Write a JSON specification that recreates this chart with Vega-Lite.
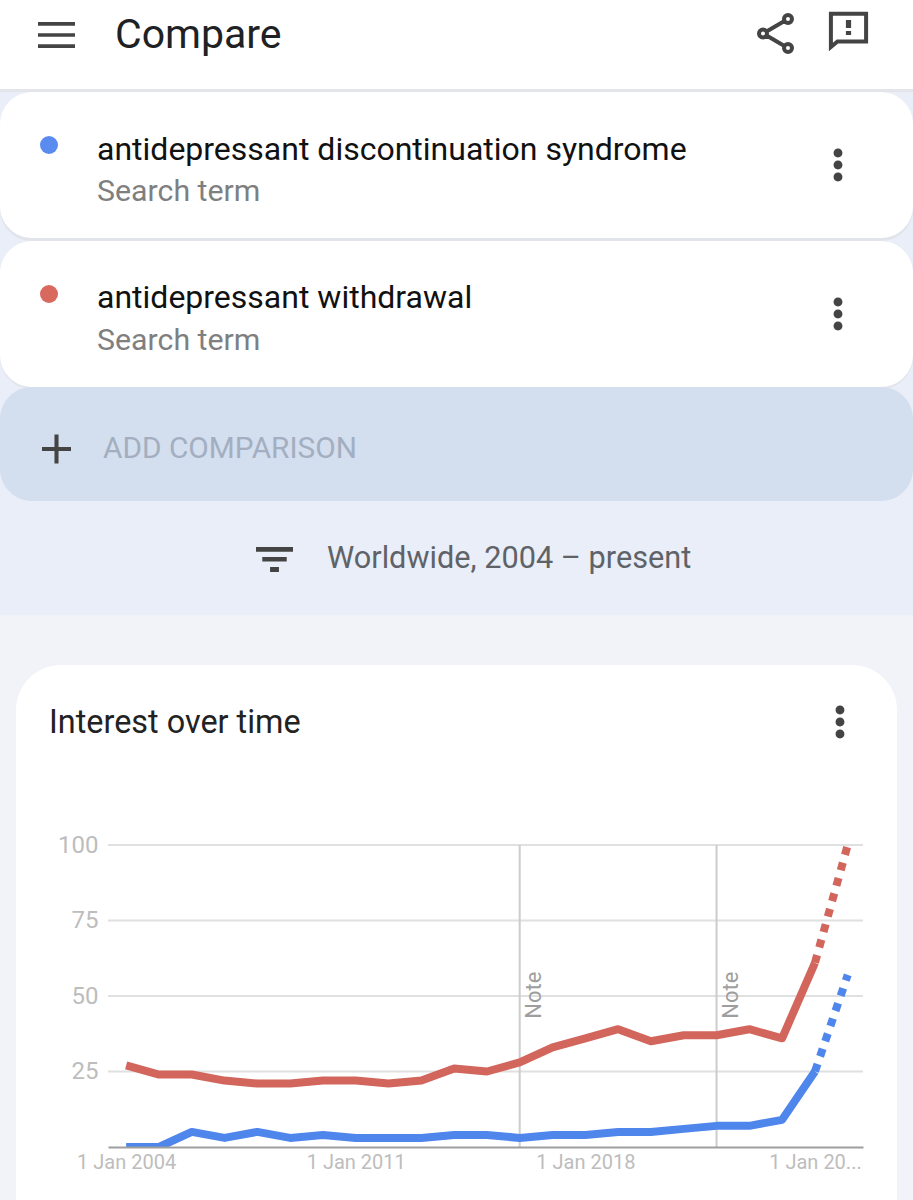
{
"$schema":"https://vega.github.io/schema/vega-lite/v6.json",
"width":755,"height":302,
"autosize":{"type":"none"},
"padding":{"left":108,"top":845,"right":50,"bottom":53},
"background":"#f1f3f9",
"view":{"stroke":null},
"config":{"text":{"font":"Roboto","baseline":"alphabetic","align":"left"}},
"datasets":{
"series":[
{"date":"2004-01-01","term":"antidepressant discontinuation syndrome","value":0},
{"date":"2005-01-01","term":"antidepressant discontinuation syndrome","value":0},
{"date":"2006-01-01","term":"antidepressant discontinuation syndrome","value":5},
{"date":"2007-01-01","term":"antidepressant discontinuation syndrome","value":3},
{"date":"2008-01-01","term":"antidepressant discontinuation syndrome","value":5},
{"date":"2009-01-01","term":"antidepressant discontinuation syndrome","value":3},
{"date":"2010-01-01","term":"antidepressant discontinuation syndrome","value":4},
{"date":"2011-01-01","term":"antidepressant discontinuation syndrome","value":3},
{"date":"2012-01-01","term":"antidepressant discontinuation syndrome","value":3},
{"date":"2013-01-01","term":"antidepressant discontinuation syndrome","value":3},
{"date":"2014-01-01","term":"antidepressant discontinuation syndrome","value":4},
{"date":"2015-01-01","term":"antidepressant discontinuation syndrome","value":4},
{"date":"2016-01-01","term":"antidepressant discontinuation syndrome","value":3},
{"date":"2017-01-01","term":"antidepressant discontinuation syndrome","value":4},
{"date":"2018-01-01","term":"antidepressant discontinuation syndrome","value":4},
{"date":"2019-01-01","term":"antidepressant discontinuation syndrome","value":5},
{"date":"2020-01-01","term":"antidepressant discontinuation syndrome","value":5},
{"date":"2021-01-01","term":"antidepressant discontinuation syndrome","value":6},
{"date":"2022-01-01","term":"antidepressant discontinuation syndrome","value":7},
{"date":"2023-01-01","term":"antidepressant discontinuation syndrome","value":7},
{"date":"2024-01-01","term":"antidepressant discontinuation syndrome","value":9},
{"date":"2025-01-01","term":"antidepressant discontinuation syndrome","value":25},
{"date":"2026-01-01","term":"antidepressant discontinuation syndrome","value":57},
{"date":"2004-01-01","term":"antidepressant withdrawal","value":27},
{"date":"2005-01-01","term":"antidepressant withdrawal","value":24},
{"date":"2006-01-01","term":"antidepressant withdrawal","value":24},
{"date":"2007-01-01","term":"antidepressant withdrawal","value":22},
{"date":"2008-01-01","term":"antidepressant withdrawal","value":21},
{"date":"2009-01-01","term":"antidepressant withdrawal","value":21},
{"date":"2010-01-01","term":"antidepressant withdrawal","value":22},
{"date":"2011-01-01","term":"antidepressant withdrawal","value":22},
{"date":"2012-01-01","term":"antidepressant withdrawal","value":21},
{"date":"2013-01-01","term":"antidepressant withdrawal","value":22},
{"date":"2014-01-01","term":"antidepressant withdrawal","value":26},
{"date":"2015-01-01","term":"antidepressant withdrawal","value":25},
{"date":"2016-01-01","term":"antidepressant withdrawal","value":28},
{"date":"2017-01-01","term":"antidepressant withdrawal","value":33},
{"date":"2018-01-01","term":"antidepressant withdrawal","value":36},
{"date":"2019-01-01","term":"antidepressant withdrawal","value":39},
{"date":"2020-01-01","term":"antidepressant withdrawal","value":35},
{"date":"2021-01-01","term":"antidepressant withdrawal","value":37},
{"date":"2022-01-01","term":"antidepressant withdrawal","value":37},
{"date":"2023-01-01","term":"antidepressant withdrawal","value":39},
{"date":"2024-01-01","term":"antidepressant withdrawal","value":36},
{"date":"2025-01-01","term":"antidepressant withdrawal","value":61},
{"date":"2026-01-01","term":"antidepressant withdrawal","value":100}
],
"ui":[{"part":"chrome"}],
"grid":[{"v":25},{"v":50},{"v":75},{"v":100}],
"notes":[{"date":"2016-01-01","label":"Note"},{"date":"2022-01-01","label":"Note"}]
},
"layer":[
{"data":{"name":"ui"},"mark":{"type":"rect","fill":"#e9eef8"},"encoding":{"x":{"value":-108},"x2":{"value":805},"y":{"value":-755},"y2":{"value":-230}}},
{"data":{"name":"ui"},"mark":{"type":"rect","fill":"#ffffff"},"encoding":{"x":{"value":-108},"x2":{"value":805},"y":{"value":-845},"y2":{"value":-756}}},
{"data":{"name":"ui"},"mark":{"type":"rect","fill":"#e3e5ea"},"encoding":{"x":{"value":-108},"x2":{"value":805},"y":{"value":-756},"y2":{"value":-753}}},
{"data":{"name":"ui"},"mark":{"type":"rect","fill":"#e1e4ea","cornerRadius":32},"encoding":{"x":{"value":-108},"x2":{"value":805},"y":{"value":-753},"y2":{"value":-604}}},
{"data":{"name":"ui"},"mark":{"type":"rect","fill":"#ffffff","cornerRadius":32},"encoding":{"x":{"value":-108},"x2":{"value":805},"y":{"value":-753},"y2":{"value":-607}}},
{"data":{"name":"ui"},"mark":{"type":"rect","fill":"#e1e4ea","cornerRadius":32},"encoding":{"x":{"value":-108},"x2":{"value":805},"y":{"value":-604},"y2":{"value":-456}}},
{"data":{"name":"ui"},"mark":{"type":"rect","fill":"#d3deef","cornerRadius":32},"encoding":{"x":{"value":-108},"x2":{"value":805},"y":{"value":-458},"y2":{"value":-344}}},
{"data":{"name":"ui"},"mark":{"type":"rect","fill":"#ffffff","cornerRadius":32},"encoding":{"x":{"value":-108},"x2":{"value":805},"y":{"value":-604},"y2":{"value":-458}}},
{"data":{"name":"ui"},"mark":{"type":"rect","fill":"#ffffff","cornerRadius":45},"encoding":{"x":{"value":-92},"x2":{"value":789},"y":{"value":-180},"y2":{"value":420}}},

{"data":{"values":[{"label":"Compare"}]},"mark":{"type":"text","fontSize":41,"fill":"#202124"},"encoding":{"text":{"field":"label"},"x":{"value":7},"y":{"value":-797}}},
{"data":{"values":[{"label":"antidepressant discontinuation syndrome"}]},"mark":{"type":"text","fontSize":32,"fill":"#111111"},"encoding":{"text":{"field":"label"},"x":{"value":-11},"y":{"value":-685}}},
{"data":{"values":[{"label":"Search term"}]},"mark":{"type":"text","fontSize":30.3,"fill":"#7f7f7f"},"encoding":{"text":{"field":"label"},"x":{"value":-11},"y":{"value":-644}}},
{"data":{"values":[{"label":"antidepressant withdrawal"}]},"mark":{"type":"text","fontSize":32,"fill":"#111111"},"encoding":{"text":{"field":"label"},"x":{"value":-11},"y":{"value":-537}}},
{"data":{"values":[{"label":"Search term"}]},"mark":{"type":"text","fontSize":30.3,"fill":"#7f7f7f"},"encoding":{"text":{"field":"label"},"x":{"value":-11},"y":{"value":-495}}},
{"data":{"values":[{"label":"ADD COMPARISON"}]},"mark":{"type":"text","fontSize":29.8,"fill":"#a3afc0"},"encoding":{"text":{"field":"label"},"x":{"value":-5},"y":{"value":-387}}},
{"data":{"values":[{"label":"Worldwide, 2004 – present"}]},"mark":{"type":"text","fontSize":30.7,"fill":"#5f6368"},"encoding":{"text":{"field":"label"},"x":{"value":219},"y":{"value":-277}}},
{"data":{"values":[{"label":"Interest over time"}]},"mark":{"type":"text","fontSize":32.4,"fill":"#222222"},"encoding":{"text":{"field":"label"},"x":{"value":-59},"y":{"value":-112}}},

{"data":{"name":"ui"},"mark":{"type":"point","filled":true,"size":324,"fill":"#5a8cf0","opacity":1,"shape":"circle"},"encoding":{"x":{"value":-59},"y":{"value":-700}}},
{"data":{"name":"ui"},"mark":{"type":"point","filled":true,"size":324,"fill":"#d9695f","opacity":1,"shape":"circle"},"encoding":{"x":{"value":-59},"y":{"value":-551}}},

{"data":{"name":"ui"},"mark":{"type":"point","filled":true,"opacity":1,"fill":"#444444","size":1369,"shape":"M-1-.7H1V-.5H-1ZM-1-.1H1V.1H-1ZM-1 .5H1V.7H-1Z"},"encoding":{"x":{"value":-51.5},"y":{"value":-810}}},
{"data":{"name":"ui"},"mark":{"type":"point","filled":false,"opacity":1,"stroke":"#444444","strokeWidth":4,"size":1600,"shape":"M-.43-.125L.38-.595M-.43.125L.38.595M-.45 0A.2 .2 0 1 1-.85 0A.2 .2 0 1 1-.45 0ZM.8-.72A.2 .2 0 1 1 .4-.72A.2 .2 0 1 1 .8-.72ZM.8 .72A.2 .2 0 1 1 .4 .72A.2 .2 0 1 1 .8 .72Z"},"encoding":{"x":{"value":668},"y":{"value":-811.5}}},
{"data":{"name":"ui"},"mark":{"type":"point","filled":false,"opacity":1,"stroke":"#444444","strokeWidth":4,"size":1600,"shape":"M-.88-.86H.88V.52H-.55L-.88.8Z"},"encoding":{"x":{"value":740.5},"y":{"value":-814}}},
{"data":{"name":"ui"},"mark":{"type":"point","filled":true,"opacity":1,"fill":"#444444","size":1600,"shape":"M-.13-.55H.13V-.15H-.13ZM-.13 0H.13V.2H-.13Z"},"encoding":{"x":{"value":740.5},"y":{"value":-814}}},
{"data":{"name":"ui"},"mark":{"type":"point","filled":true,"opacity":1,"fill":"#444444","size":1089,"shape":"M.27-.73A.27 .27 0 1 1-.27-.73A.27 .27 0 1 1 .27-.73ZM.27 0A.27 .27 0 1 1-.27 0A.27 .27 0 1 1 .27 0ZM.27 .73A.27 .27 0 1 1-.27 .73A.27 .27 0 1 1 .27 .73Z"},"encoding":{"x":{"value":730},"y":{"value":-680}}},
{"data":{"name":"ui"},"mark":{"type":"point","filled":true,"opacity":1,"fill":"#444444","size":1089,"shape":"M.27-.73A.27 .27 0 1 1-.27-.73A.27 .27 0 1 1 .27-.73ZM.27 0A.27 .27 0 1 1-.27 0A.27 .27 0 1 1 .27 0ZM.27 .73A.27 .27 0 1 1-.27 .73A.27 .27 0 1 1 .27 .73Z"},"encoding":{"x":{"value":730},"y":{"value":-531}}},
{"data":{"name":"ui"},"mark":{"type":"point","filled":true,"opacity":1,"fill":"#444444","size":1089,"shape":"M.27-.73A.27 .27 0 1 1-.27-.73A.27 .27 0 1 1 .27-.73ZM.27 0A.27 .27 0 1 1-.27 0A.27 .27 0 1 1 .27 0ZM.27 .73A.27 .27 0 1 1-.27 .73A.27 .27 0 1 1 .27 .73Z"},"encoding":{"x":{"value":732},"y":{"value":-123}}},
{"data":{"name":"ui"},"mark":{"type":"point","filled":true,"opacity":1,"fill":"#444444","size":841,"shape":"M-.14-1H.14V-.14H1V.14H.14V1H-.14V.14H-1V-.14H-.14Z"},"encoding":{"x":{"value":-51.5},"y":{"value":-396}}},
{"data":{"name":"ui"},"mark":{"type":"point","filled":true,"opacity":1,"fill":"#444444","size":1369,"shape":"M-1-.68H1V-.42H-1ZM-.66-.135H.66V.11H-.66ZM-.24 .4H.24V.68H-.24Z"},"encoding":{"x":{"value":166.5},"y":{"value":-285.5}}},

{"data":{"name":"grid"},"mark":{"type":"rule","stroke":"#e0e0e0","strokeWidth":2},
 "encoding":{"y":{"field":"v","type":"quantitative","scale":{"domain":[0,100],"nice":false},
   "axis":{"title":null,"grid":false,"ticks":false,"domain":false,"zindex":1,"values":[25,50,75,100],"labelFont":"Roboto","labelFontSize":24,"labelColor":"#bdbdbd","labelPadding":10}}}},
{"data":{"name":"notes"},"mark":{"type":"rule","stroke":"#cccccc","strokeWidth":2},
 "encoding":{"x":{"field":"date","type":"temporal","scale":{"type":"utc","domain":[{"year":2003,"month":6,"date":13,"utc":true},{"year":2026,"month":6,"date":20,"utc":true}]},
   "axis":{"title":null,"grid":false,"ticks":false,"zindex":1,"domainColor":"#9e9e9e","domainWidth":2,"labelFont":"Roboto","labelFontSize":20,"labelColor":"#bdbdbd","labelPadding":5,"labelOverlap":false,"labelFlush":false,"labelAlign":"center",
    "values":[{"year":2004,"month":1,"date":1,"utc":true},{"year":2011,"month":1,"date":1,"utc":true},{"year":2018,"month":1,"date":1,"utc":true},{"year":2025,"month":1,"date":1,"utc":true}],
    "labelExpr":"utcyear(datum.value)==2025 ? '1 Jan 20...' : '1 Jan ' + utcyear(datum.value)"}}}},
{"data":{"name":"series"},"transform":[{"filter":"utcyear(toDate(datum.date))<=2025"}],
 "mark":{"type":"line","strokeWidth":8,"clip":true,"strokeJoin":"round","strokeCap":"butt"},
 "encoding":{
  "x":{"field":"date","type":"temporal","scale":{"type":"utc","domain":[{"year":2003,"month":6,"date":13,"utc":true},{"year":2026,"month":6,"date":20,"utc":true}]}},
  "y":{"field":"value","type":"quantitative","scale":{"domain":[0,100],"nice":false}},
  "color":{"field":"term","type":"nominal","legend":null,"scale":{"domain":["antidepressant discontinuation syndrome","antidepressant withdrawal"],"range":["#4f86ec","#d2665c"]}}
 }},
{"data":{"name":"series"},"transform":[{"filter":"utcyear(toDate(datum.date))>=2025"}],
 "mark":{"type":"line","strokeWidth":8,"clip":true,"strokeDash":[8,8],"strokeCap":"butt"},
 "encoding":{
  "x":{"field":"date","type":"temporal","scale":{"type":"utc","domain":[{"year":2003,"month":6,"date":13,"utc":true},{"year":2026,"month":6,"date":20,"utc":true}]}},
  "y":{"field":"value","type":"quantitative","scale":{"domain":[0,100],"nice":false}},
  "color":{"field":"term","type":"nominal","legend":null,"scale":{"domain":["antidepressant discontinuation syndrome","antidepressant withdrawal"],"range":["#4f86ec","#d2665c"]}}
 }},
{"data":{"name":"notes"},"mark":{"type":"text","angle":270,"fontSize":22,"fill":"#9e9e9e","align":"left","baseline":"alphabetic","dy":21},
 "encoding":{"text":{"field":"label"},
  "x":{"field":"date","type":"temporal","scale":{"type":"utc","domain":[{"year":2003,"month":6,"date":13,"utc":true},{"year":2026,"month":6,"date":20,"utc":true}]}},
  "y":{"datum":42.5,"scale":{"domain":[0,100],"nice":false}}}}
]
}
